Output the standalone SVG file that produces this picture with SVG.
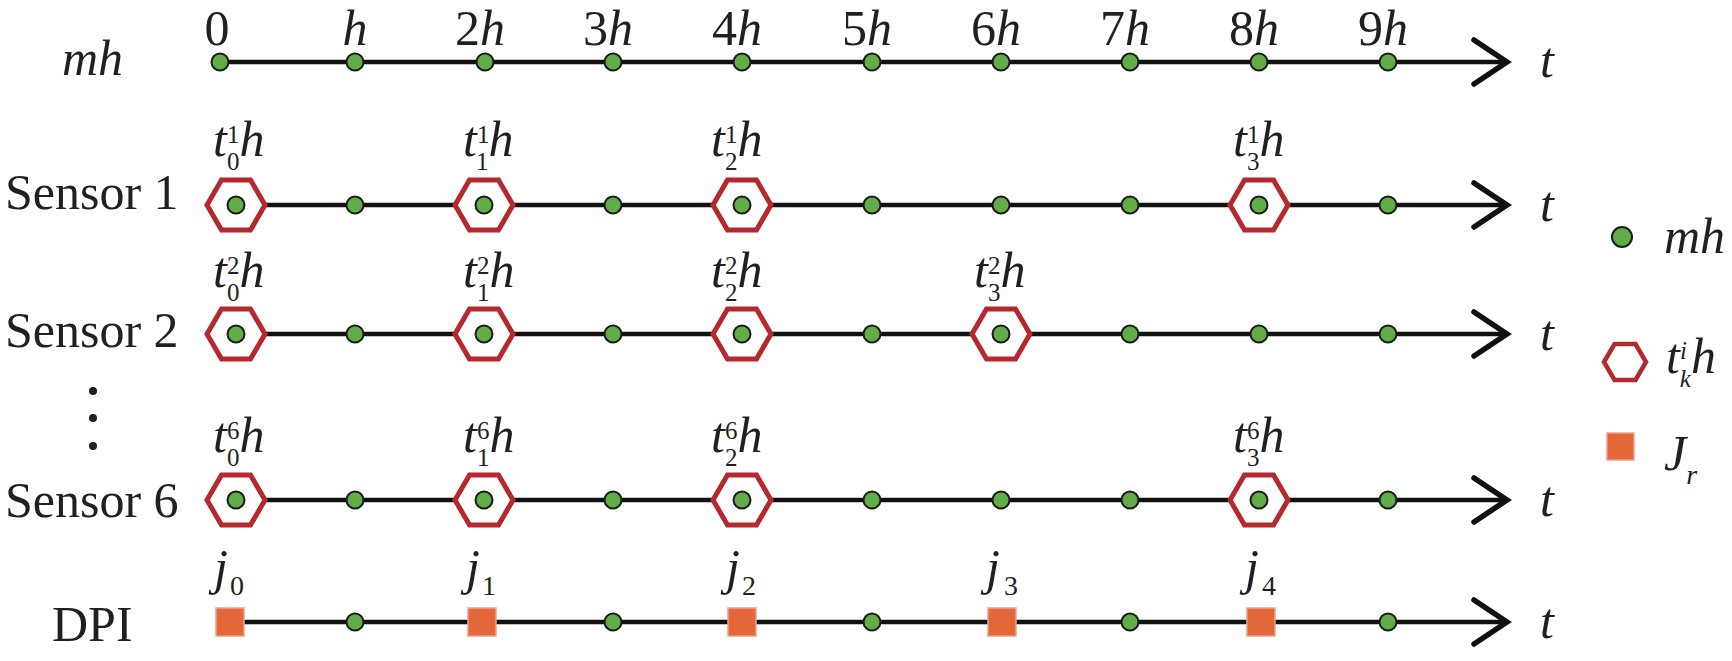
<svg xmlns="http://www.w3.org/2000/svg" xmlns:xlink="http://www.w3.org/1999/xlink" width="1732" height="661" viewBox="0 0 1732 661">
<style>
.ln{stroke:#111;stroke-width:4.5;fill:none}
.arr{stroke:#111;stroke-width:5.5;fill:none;stroke-linecap:round;stroke-linejoin:miter}
.dot{fill:#63ad48;stroke:#1b1b1b;stroke-width:2}
.hex{fill:#fff;stroke:#b5282e;stroke-width:5}
.sq{fill:#e4673a;stroke:#e8a48b;stroke-width:1.5}
.vd{fill:#231f20}
</style>
<defs>
<polygon id="hex" class="hex" points="-29,0 -14.5,-25 14.5,-25 29,0 14.5,25 -14.5,25"/>
<polygon id="hexs" class="hex" points="-21,0 -10.5,-18 10.5,-18 21,0 10.5,18 -10.5,18" style="stroke-width:4.5"/>
<circle id="dot" class="dot" r="8.5"/>
<rect id="sq" class="sq" x="-14" y="-14" width="28" height="28"/>
<path id="arrow" class="arr" d="M-33,-22 L0,0 L-33,22"/>
</defs>

<g id="connectors">
<line class="ln" x1="220" y1="62" x2="1504" y2="62"/>
<use xlink:href="#arrow" x="1507" y="62"/>
<line class="ln" x1="236" y1="205" x2="1504" y2="205"/>
<use xlink:href="#arrow" x="1507" y="205"/>
<line class="ln" x1="236" y1="334" x2="1504" y2="334"/>
<use xlink:href="#arrow" x="1507" y="334"/>
<line class="ln" x1="236" y1="500" x2="1504" y2="500"/>
<use xlink:href="#arrow" x="1507" y="500"/>
<line class="ln" x1="230" y1="622" x2="1504" y2="622"/>
<use xlink:href="#arrow" x="1507" y="622"/>
</g>

<g font-family="Liberation Serif" font-size="50" fill="#231f20">

<g id="row-labels">
<text font-style="italic" x="62" y="75">mh</text>
<text x="5" y="209">Sensor 1</text>
<text x="5" y="347">Sensor 2</text>
<text x="5" y="517">Sensor 6</text>
<text x="52" y="641">DPI</text>
<circle class="vd" cx="93" cy="391" r="4"/>
<circle class="vd" cx="93" cy="418" r="4"/>
<circle class="vd" cx="93" cy="446" r="4"/>
<text font-style="italic" x="1540" y="77">t</text>
<text font-style="italic" x="1540" y="221">t</text>
<text font-style="italic" x="1540" y="350">t</text>
<text font-style="italic" x="1540" y="516">t</text>
<text font-style="italic" x="1540" y="638">t</text>
</g>

<g id="row-mh">
<g id="mh-0"><use xlink:href="#dot" x="220" y="62"/><text x="217" y="45" text-anchor="middle">0</text></g>
<g id="mh-1"><use xlink:href="#dot" x="355" y="62"/><text font-style="italic" x="355" y="45" text-anchor="middle">h</text></g>
<g id="mh-2"><use xlink:href="#dot" x="485" y="62"/><text x="480" y="45" text-anchor="middle">2<tspan font-style="italic">h</tspan></text></g>
<g id="mh-3"><use xlink:href="#dot" x="613" y="62"/><text x="608" y="45" text-anchor="middle">3<tspan font-style="italic">h</tspan></text></g>
<g id="mh-4"><use xlink:href="#dot" x="742" y="62"/><text x="737" y="45" text-anchor="middle">4<tspan font-style="italic">h</tspan></text></g>
<g id="mh-5"><use xlink:href="#dot" x="872" y="62"/><text x="867" y="45" text-anchor="middle">5<tspan font-style="italic">h</tspan></text></g>
<g id="mh-6"><use xlink:href="#dot" x="1001" y="62"/><text x="996" y="45" text-anchor="middle">6<tspan font-style="italic">h</tspan></text></g>
<g id="mh-7"><use xlink:href="#dot" x="1130" y="62"/><text x="1125" y="45" text-anchor="middle">7<tspan font-style="italic">h</tspan></text></g>
<g id="mh-8"><use xlink:href="#dot" x="1259" y="62"/><text x="1254" y="45" text-anchor="middle">8<tspan font-style="italic">h</tspan></text></g>
<g id="mh-9"><use xlink:href="#dot" x="1388" y="62"/><text x="1383" y="45" text-anchor="middle">9<tspan font-style="italic">h</tspan></text></g>
</g>

<g id="row-sensor1">
<g id="s1-0"><use xlink:href="#hex" x="236" y="205"/><use xlink:href="#dot" x="236" y="205"/><text font-style="italic" x="213" y="156">t<tspan font-style="normal" font-size="25" dy="-13">1</tspan><tspan font-style="normal" font-size="25" dx="-12.5" dy="27">0</tspan><tspan dy="-14">h</tspan></text></g>
<g id="s1-1"><use xlink:href="#dot" x="355" y="205"/></g>
<g id="s1-2"><use xlink:href="#hex" x="484" y="205"/><use xlink:href="#dot" x="484" y="205"/><text font-style="italic" x="463" y="156">t<tspan font-style="normal" font-size="25" dy="-13">1</tspan><tspan font-style="normal" font-size="25" dx="-12.5" dy="27">1</tspan><tspan dy="-14">h</tspan></text></g>
<g id="s1-3"><use xlink:href="#dot" x="613" y="205"/></g>
<g id="s1-4"><use xlink:href="#hex" x="742" y="205"/><use xlink:href="#dot" x="742" y="205"/><text font-style="italic" x="711" y="156">t<tspan font-style="normal" font-size="25" dy="-13">1</tspan><tspan font-style="normal" font-size="25" dx="-12.5" dy="27">2</tspan><tspan dy="-14">h</tspan></text></g>
<g id="s1-5"><use xlink:href="#dot" x="872" y="205"/></g>
<g id="s1-6"><use xlink:href="#dot" x="1001" y="205"/></g>
<g id="s1-7"><use xlink:href="#dot" x="1130" y="205"/></g>
<g id="s1-8"><use xlink:href="#hex" x="1259" y="205"/><use xlink:href="#dot" x="1259" y="205"/><text font-style="italic" x="1233" y="156">t<tspan font-style="normal" font-size="25" dy="-13">1</tspan><tspan font-style="normal" font-size="25" dx="-12.5" dy="27">3</tspan><tspan dy="-14">h</tspan></text></g>
<g id="s1-9"><use xlink:href="#dot" x="1388" y="205"/></g>
</g>

<g id="row-sensor2">
<g id="s2-0"><use xlink:href="#hex" x="236" y="334"/><use xlink:href="#dot" x="236" y="334"/><text font-style="italic" x="213" y="287">t<tspan font-style="normal" font-size="25" dy="-13">2</tspan><tspan font-style="normal" font-size="25" dx="-12.5" dy="27">0</tspan><tspan dy="-14">h</tspan></text></g>
<g id="s2-1"><use xlink:href="#dot" x="355" y="334"/></g>
<g id="s2-2"><use xlink:href="#hex" x="484" y="334"/><use xlink:href="#dot" x="484" y="334"/><text font-style="italic" x="463" y="287">t<tspan font-style="normal" font-size="25" dy="-13">2</tspan><tspan font-style="normal" font-size="25" dx="-12.5" dy="27">1</tspan><tspan dy="-14">h</tspan></text></g>
<g id="s2-3"><use xlink:href="#dot" x="613" y="334"/></g>
<g id="s2-4"><use xlink:href="#hex" x="742" y="334"/><use xlink:href="#dot" x="742" y="334"/><text font-style="italic" x="711" y="287">t<tspan font-style="normal" font-size="25" dy="-13">2</tspan><tspan font-style="normal" font-size="25" dx="-12.5" dy="27">2</tspan><tspan dy="-14">h</tspan></text></g>
<g id="s2-5"><use xlink:href="#dot" x="872" y="334"/></g>
<g id="s2-6"><use xlink:href="#hex" x="1001" y="334"/><use xlink:href="#dot" x="1001" y="334"/><text font-style="italic" x="974" y="287">t<tspan font-style="normal" font-size="25" dy="-13">2</tspan><tspan font-style="normal" font-size="25" dx="-12.5" dy="27">3</tspan><tspan dy="-14">h</tspan></text></g>
<g id="s2-7"><use xlink:href="#dot" x="1130" y="334"/></g>
<g id="s2-8"><use xlink:href="#dot" x="1259" y="334"/></g>
<g id="s2-9"><use xlink:href="#dot" x="1388" y="334"/></g>
</g>

<g id="row-sensor6">
<g id="s6-0"><use xlink:href="#hex" x="236" y="500"/><use xlink:href="#dot" x="236" y="500"/><text font-style="italic" x="213" y="452">t<tspan font-style="normal" font-size="25" dy="-13">6</tspan><tspan font-style="normal" font-size="25" dx="-12.5" dy="27">0</tspan><tspan dy="-14">h</tspan></text></g>
<g id="s6-1"><use xlink:href="#dot" x="355" y="500"/></g>
<g id="s6-2"><use xlink:href="#hex" x="484" y="500"/><use xlink:href="#dot" x="484" y="500"/><text font-style="italic" x="463" y="452">t<tspan font-style="normal" font-size="25" dy="-13">6</tspan><tspan font-style="normal" font-size="25" dx="-12.5" dy="27">1</tspan><tspan dy="-14">h</tspan></text></g>
<g id="s6-3"><use xlink:href="#dot" x="613" y="500"/></g>
<g id="s6-4"><use xlink:href="#hex" x="742" y="500"/><use xlink:href="#dot" x="742" y="500"/><text font-style="italic" x="711" y="452">t<tspan font-style="normal" font-size="25" dy="-13">6</tspan><tspan font-style="normal" font-size="25" dx="-12.5" dy="27">2</tspan><tspan dy="-14">h</tspan></text></g>
<g id="s6-5"><use xlink:href="#dot" x="872" y="500"/></g>
<g id="s6-6"><use xlink:href="#dot" x="1001" y="500"/></g>
<g id="s6-7"><use xlink:href="#dot" x="1130" y="500"/></g>
<g id="s6-8"><use xlink:href="#hex" x="1259" y="500"/><use xlink:href="#dot" x="1259" y="500"/><text font-style="italic" x="1233" y="452">t<tspan font-style="normal" font-size="25" dy="-13">6</tspan><tspan font-style="normal" font-size="25" dx="-12.5" dy="27">3</tspan><tspan dy="-14">h</tspan></text></g>
<g id="s6-9"><use xlink:href="#dot" x="1388" y="500"/></g>
</g>

<g id="row-dpi">
<g id="dpi-0"><use xlink:href="#sq" x="230" y="622"/><text font-style="italic" x="214" y="584">j</text><text font-size="28" x="230" y="595">0</text></g>
<g id="dpi-1"><use xlink:href="#dot" x="355" y="622"/></g>
<g id="dpi-2"><use xlink:href="#sq" x="482" y="622"/><text font-style="italic" x="466" y="584">j</text><text font-size="28" x="482" y="595">1</text></g>
<g id="dpi-3"><use xlink:href="#dot" x="613" y="622"/></g>
<g id="dpi-4"><use xlink:href="#sq" x="742" y="622"/><text font-style="italic" x="726" y="584">j</text><text font-size="28" x="742" y="595">2</text></g>
<g id="dpi-5"><use xlink:href="#dot" x="872" y="622"/></g>
<g id="dpi-6"><use xlink:href="#sq" x="1002" y="622"/><text font-style="italic" x="986" y="584">j</text><text font-size="28" x="1004" y="595">3</text></g>
<g id="dpi-7"><use xlink:href="#dot" x="1130" y="622"/></g>
<g id="dpi-8"><use xlink:href="#sq" x="1261" y="622"/><text font-style="italic" x="1245" y="584">j</text><text font-size="28" x="1262" y="595">4</text></g>
<g id="dpi-9"><use xlink:href="#dot" x="1388" y="622"/></g>
</g>

<g id="legend">
<g id="legend-mh"><circle class="dot" cx="1622" cy="237" r="10"/><text font-style="italic" x="1664" y="253">mh</text></g>
<g id="legend-t"><use xlink:href="#hexs" x="1625" y="362"/><text font-style="italic" x="1666" y="373">t<tspan font-size="25" dy="-14">i</tspan><tspan font-size="25" dx="-7" dy="28">k</tspan><tspan dy="-14">h</tspan></text></g>
<g id="legend-j"><rect class="sq" x="1607" y="433" width="27" height="27"/><text font-style="italic" x="1664" y="470">J<tspan font-size="28" dy="14">r</tspan></text></g>
</g>

</g>
</svg>
